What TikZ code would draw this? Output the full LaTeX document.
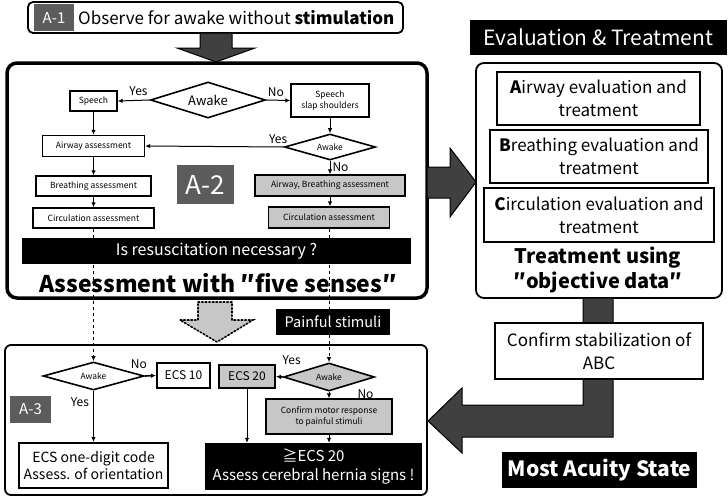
\documentclass[tikz,border=0pt]{standalone}
\usepackage{fontspec}
\setmainfont{Noto Sans CJK JP}
\usetikzlibrary{positioning, shapes.geometric, arrows.meta}

\definecolor{boxgray}{gray}{0.78}
\definecolor{labgray}{gray}{0.36}
\definecolor{arrgray}{gray}{0.25}
\newcommand\fsz[2]{\fontsize{#1}{#2}\selectfont}

\tikzset{
  sbox/.style={draw, line width=1.3pt, fill=white, inner sep=1pt, align=center, font=\fsz{8.5}{10.5}},
  gbox/.style={sbox, fill=boxgray},
  tbox/.style={draw, line width=2pt, fill=white, inner sep=1pt, align=center, font=\fsz{14}{17}},
  rbox/.style={draw, line width=1.3pt, fill=white, inner sep=1pt, align=center, font=\fsz{17}{23}},
  blk/.style={fill=black, text=white, inner sep=1pt, align=center},
  lab/.style={fill=labgray, text=white, inner sep=0pt},
  dia/.style={draw, diamond, line width=1.6pt, fill=white, inner sep=0pt, aspect=3},
  yn/.style={font=\fsz{12}{14}, inner sep=1pt},
  bigarr/.style={fill=arrgray, draw=black, line width=1pt, line join=miter},
}

\begin{document}
\begin{tikzpicture}[x=1pt, y=-1pt, >={Latex[length=5pt,width=4.5pt]}]
\useasboundingbox (0,0) rectangle (728,496);

% A-1
\draw[line width=1.8pt, rounded corners=5pt] (28,2) rectangle (403,33);
\node[lab, minimum width=40, minimum height=27, font=\fsz{15}{17}] (a1lab) at (54,17.5) {A-1};
\node[anchor=west, inner sep=0pt, font=\fsz{17}{20}] (a1txt) at (78,18) {Observe for awake without \textbf{stimulation}};
\draw[bigarr] (200,33) -- (232,33) -- (232,48) -- (255,48) -- (216,62) -- (177,48) -- (200,48) -- cycle;

% A-2
\draw[line width=3.5pt, rounded corners=10pt] (7,63) rectangle (427,298);
\node[dia, minimum width=115, minimum height=36, font=\fsz{13}{15}] (aw1) at (208,100) {Awake};
\node[sbox, minimum width=47, minimum height=20] (sp1) at (93.5,101) {Speech};
\node[sbox, minimum width=78, minimum height=33] (sp2) at (330,100.5) {Speech\\slap shoulders};
\node[sbox, minimum width=102, minimum height=21] (air) at (93.5,146) {Airway assessment};
\node[dia, minimum width=91, minimum height=26, font=\fsz{8.5}{10}] (aw2) at (330,147) {Awake};
\node[sbox, minimum width=115, minimum height=20] (brt) at (93.5,186) {Breathing assessment};
\node[sbox, minimum width=121, minimum height=20] (cir1) at (93.5,218) {Circulation assessment};
\node[gbox, minimum width=150, minimum height=21] (abg) at (330,185.5) {Airway, Breathing assessment};
\node[gbox, minimum width=121, minimum height=21] (cir2) at (329,217.5) {Circulation assessment};
\node[lab, minimum width=57, minimum height=39, font=\fsz{26}{28}] (a2lab) at (205.5,184.5) {A-2};
\node[blk, minimum width=389, minimum height=26, font=\fsz{16}{18}] (resus) at (216.5,251) {Is resuscitation necessary ?};
\node[font=\fsz{23}{26}\bfseries, inner sep=0pt] (senses) at (218,283) {Assessment with ″five senses″};

\draw[->, line width=1pt] (aw1.west) -- node[yn, above, pos=0.35, yshift=3pt] {Yes} (sp1.east);
\draw[->, line width=1pt] (aw1.east) -- node[yn, above, pos=0.4, yshift=2pt] {No} (sp2.west);
\draw[->, line width=1pt] (sp1) -- (air);
\draw[->, line width=1pt] (sp2) -- (aw2);
\draw[->, line width=1pt] (aw2.west) -- node[yn, above, pos=0.04, yshift=2pt] {Yes} (air.east);
\draw[->, line width=1pt] (aw2.south) -- node[yn, right, pos=0.5, xshift=1pt] {No} (abg.north);
\draw[->, line width=1pt] (air) -- (brt);
\draw[->, line width=1pt] (brt) -- (cir1);
\draw[->, line width=1pt] (abg) -- (abg |- cir2.north);

% between
\draw[bigarr] (427,167) -- (450,167) -- (450,148) -- (476,182) -- (450,217) -- (450,198) -- (427,198) -- cycle;
\draw[fill=boxgray, line width=1.6pt, dotted, line cap=round] (198,302) -- (232,302) -- (232,320) -- (253,320) -- (217,342) -- (180,320) -- (198,320) -- cycle;
\node[blk, minimum width=114, minimum height=26, font=\fsz{14.5}{16}] (pain) at (333,322) {Painful stimuli};

% A-3
\draw[line width=1.8pt, rounded corners=6pt] (5,345) rectangle (427,495);
\node[dia, minimum width=101, minimum height=28, font=\fsz{8.5}{10}] (aw3) at (93.5,376) {Awake};
\node[tbox, minimum width=53, minimum height=25, font=\fsz{12}{14}] (ecs10) at (183.5,375.5) {ECS 10};
\node[tbox, fill=boxgray, minimum width=56, minimum height=23, font=\fsz{12}{14}] (ecs20) at (247,376.5) {ECS 20};
\node[dia, fill=boxgray, minimum width=91, minimum height=28, font=\fsz{8.5}{10}] (aw4) at (329,377) {Awake};
\node[gbox, minimum width=126, minimum height=35] (motor) at (329,416.5) {Confirm motor response\\to painful stimuli};
\node[blk, minimum width=217, minimum height=47, font=\fsz{15}{19}] (hern) at (313.5,466.5) {≧ECS 20\\Assess cerebral hernia signs !};
\node[tbox, minimum width=149, minimum height=45] (onedig) at (93.5,465.5) {ECS one-digit code\\Assess. of orientation};
\node[lab, minimum width=41, minimum height=27, font=\fsz{15}{17}] (a3lab) at (30.5,409.5) {A-3};

\draw[->, line width=1.6pt] (aw3.east) -- node[yn, pos=0, xshift=-6pt, yshift=12pt] {No} (ecs10.west);
\draw[->, line width=1pt] (aw3.south) -- node[yn, left, pos=0.22, xshift=-3pt] {Yes} (onedig.north);
\draw[->, line width=1.6pt] (aw4.west) -- node[yn, pos=0, xshift=9pt, yshift=17pt] {Yes} (ecs20.east);
\draw[->, line width=1pt] (aw4.south) -- node[yn, right, pos=0.3, xshift=27pt] {No} (motor.north);
\draw[->, line width=1pt] (ecs20.south) -- (ecs20.south |- hern.north);
\draw[->, line width=1pt] (motor.south) -- (motor.south |- hern.north);

% dashed links
\draw[->, line width=1pt, dashed] (cir1.south) -- (aw3.north);
\draw[line width=1pt, dashed] (cir2.south) -- (cir2.south |- pain.north);
\draw[->, line width=1pt, dashed] (pain.south -| aw4.north) -- (aw4.north);

% right column
\node[blk, minimum width=257, minimum height=35, font=\fsz{21}{23}] (evhead) at (598.5,37.5) {Evaluation \& Treatment};
\draw[line width=1.8pt, rounded corners=8pt] (476,63) rectangle (722,298);
\node[rbox, minimum width=203, minimum height=53] (aev) at (598.5,98.5) {\textbf{A}irway evaluation and\\treatment};
\node[rbox, minimum width=218, minimum height=53] (bev) at (599,156.5) {\textbf{B}reathing evaluation and\\treatment};
\node[rbox, minimum width=230, minimum height=54] (cev) at (599,215) {\textbf{C}irculation evaluation and\\treatment};
\node[font=\fsz{20}{25}\bfseries, align=center, inner sep=0pt] (objd) at (598,270) {Treatment using\\″objective data″};

\draw[bigarr] (583,298) -- (613,298) -- (613,437) -- (462,437) -- (462,453) -- (428,421) -- (462,388) -- (462,405) -- (583,405) -- cycle;
\node[rbox, line width=1.8pt, minimum width=208, minimum height=56] (stab) at (599,351) {Confirm stabilization of\\ABC};
\node[blk, minimum width=195, minimum height=36, font=\fsz{21}{23}\bfseries] (acuity) at (599.5,470) {Most Acuity State};

\end{tikzpicture}
\end{document}
